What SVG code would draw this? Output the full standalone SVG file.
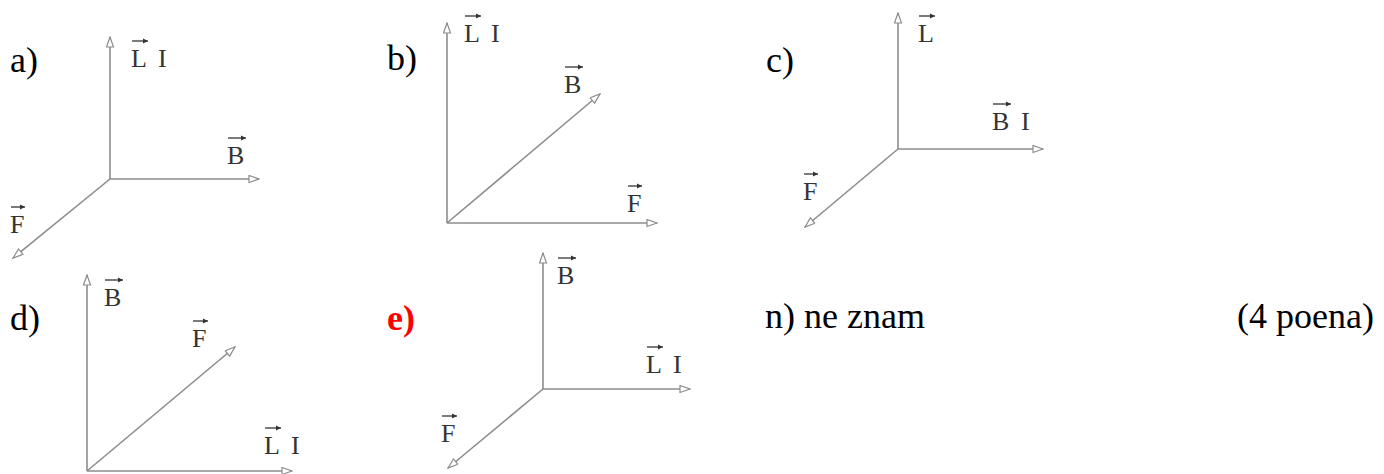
<svg xmlns="http://www.w3.org/2000/svg" width="1384" height="474" viewBox="0 0 1384 474">
<defs>
<marker id="ah" markerUnits="userSpaceOnUse" markerWidth="12" markerHeight="10" refX="11" refY="4" orient="auto">
<path d="M1,0.5 L11,4 L1,7.5 Z" fill="#fff" stroke="#8c8c8c" stroke-width="1.2"/>
</marker>
<marker id="vh" markerUnits="userSpaceOnUse" markerWidth="6" markerHeight="6" refX="5" refY="3" orient="auto">
<path d="M0,0.5 L5,3 L0,5.5 Z" fill="#333"/>
</marker>
<style>
.ax{stroke:#8c8c8c;stroke-width:1.6;fill:none;marker-end:url(#ah)}
.lb{font-family:"Liberation Serif","Times New Roman",serif;font-size:36px;fill:#000}
.vl{font-family:"Liberation Serif","Times New Roman",serif;font-size:26px;fill:#333}
.va{stroke:#333;stroke-width:1.3;marker-end:url(#vh)}
</style>
</defs>
<rect width="1384" height="474" fill="#fff"/>
<g id="connectors">
<line class="ax" x1="110" y1="179" x2="110" y2="37"/>
<line class="ax" x1="110" y1="179" x2="259" y2="179"/>
<line class="ax" x1="110" y1="179" x2="13" y2="258"/>
<line class="ax" x1="447" y1="223" x2="447" y2="23"/>
<line class="ax" x1="447" y1="223" x2="657" y2="223"/>
<line class="ax" x1="447" y1="223" x2="600" y2="94"/>
<line class="ax" x1="898" y1="149" x2="898" y2="13"/>
<line class="ax" x1="898" y1="149" x2="1043" y2="149"/>
<line class="ax" x1="898" y1="149" x2="805" y2="227"/>
<line class="ax" x1="87" y1="471" x2="87" y2="275"/>
<line class="ax" x1="87" y1="471" x2="292" y2="471"/>
<line class="ax" x1="87" y1="471" x2="235" y2="347"/>
<line class="ax" x1="543" y1="389" x2="543" y2="253"/>
<line class="ax" x1="543" y1="389" x2="690" y2="389"/>
<line class="ax" x1="543" y1="389" x2="448" y2="468"/>
</g>
<g id="panel-a">
<text class="lb" x="10" y="72">a)</text>
<text class="vl" x="131" y="67">L</text><text class="vl" x="158" y="67">I</text><line class="va" x1="132" y1="41" x2="148" y2="41"/>
<text class="vl" x="227" y="164">B</text><line class="va" x1="228" y1="138" x2="246" y2="138"/>
<text class="vl" x="10" y="233">F</text><line class="va" x1="11" y1="207" x2="25" y2="207"/>
</g>
<g id="panel-b">
<text class="lb" x="387" y="70">b)</text>
<text class="vl" x="464" y="42">L</text><text class="vl" x="491" y="42">I</text><line class="va" x1="465" y1="16" x2="481" y2="16"/>
<text class="vl" x="564" y="93">B</text><line class="va" x1="565" y1="67" x2="583" y2="67"/>
<text class="vl" x="627" y="212">F</text><line class="va" x1="628" y1="186" x2="642" y2="186"/>
</g>
<g id="panel-c">
<text class="lb" x="766" y="72">c)</text>
<text class="vl" x="918" y="42">L</text><line class="va" x1="919" y1="16" x2="935" y2="16"/>
<text class="vl" x="992" y="130">B</text><text class="vl" x="1021" y="130">I</text><line class="va" x1="993" y1="104" x2="1011" y2="104"/>
<text class="vl" x="803" y="200">F</text><line class="va" x1="804" y1="174" x2="818" y2="174"/>
</g>
<g id="panel-d">
<text class="lb" x="10" y="330">d)</text>
<text class="vl" x="104" y="306">B</text><line class="va" x1="105" y1="280" x2="123" y2="280"/>
<text class="vl" x="192" y="347">F</text><line class="va" x1="193" y1="321" x2="208" y2="321"/>
<text class="vl" x="264" y="454">L</text><text class="vl" x="291" y="454">I</text><line class="va" x1="265" y1="428" x2="281" y2="428"/>
</g>
<g id="panel-e">
<text class="lb" x="387" y="330" style="fill:#f00;font-weight:bold">e)</text>
<text class="vl" x="557" y="284">B</text><line class="va" x1="558" y1="258" x2="576" y2="258"/>
<text class="vl" x="646" y="373">L</text><text class="vl" x="673" y="373">I</text><line class="va" x1="647" y1="347" x2="663" y2="347"/>
<text class="vl" x="441" y="442">F</text><line class="va" x1="442" y1="416" x2="457" y2="416"/>
</g>
<g id="answer-n">
<text class="lb" x="765" y="328">n) ne znam</text>
</g>
<g id="points">
<text class="lb" x="1374" y="328" text-anchor="end">(4 poena)</text>
</g>
</svg>
